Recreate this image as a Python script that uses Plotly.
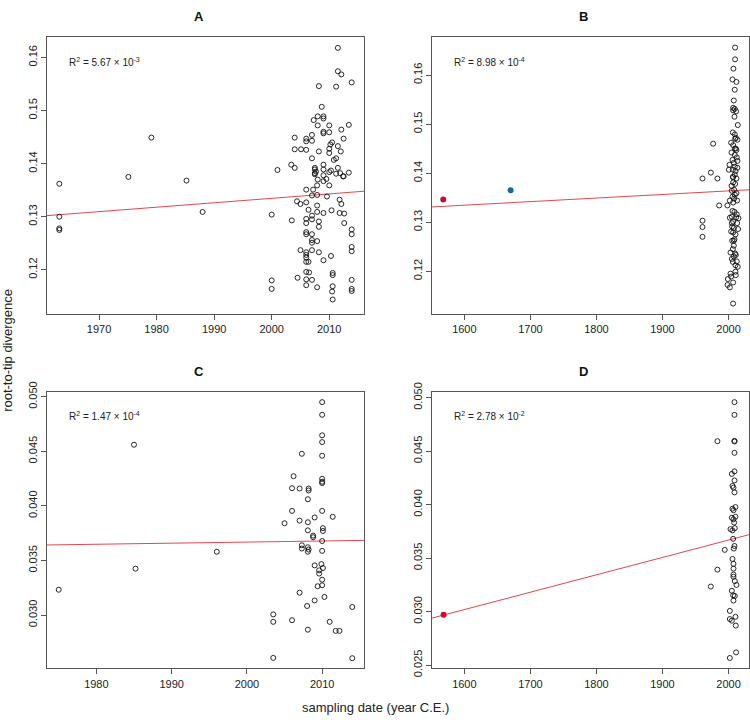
import plotly.graph_objects as go

# ---------------- Panel A ----------------
a_year = [1963.1, 1963.1, 1963.1, 1963.1, 1975.1, 1979.1, 1985.2, 1988.0, 2000.0, 2000.0, 2000.0,
          2001.0, 2003.5, 2003.4, 2004.0, 2004.0, 2004.0, 2004.4, 2004.5, 2005.0, 2005.0, 2005.1,
          2006.0, 2006.0, 2006.0, 2006.0, 2006.0, 2006.0, 2006.0, 2006.0, 2006.0, 2006.0, 2006.0,
          2006.0, 2006.0, 2006.0, 2006.0, 2006.0, 2006.4, 2006.4, 2006.5,
          2007.0, 2007.0, 2007.0, 2007.2, 2007.0, 2007.0, 2007.0, 2007.0, 2007.0, 2007.0, 2007.0, 2007.0,
          2007.3, 2007.5, 2007.5, 2007.5, 2007.5, 2007.7, 2007.9, 2007.9, 2007.9, 2007.9, 2007.9,
          2008.0, 2008.0, 2008.0, 2008.2, 2008.2, 2008.2, 2008.2, 2007.9, 2008.2,
          2008.7, 2009.0, 2009.0, 2009.0, 2009.0, 2009.0, 2009.0, 2009.0, 2009.0, 2009.0, 2009.0,
          2009.5, 2009.6, 2010.0, 2010.0, 2010.0, 2010.0, 2010.0, 2010.0, 2010.2, 2010.3, 2010.3,
          2010.4, 2010.5, 2010.5, 2010.6, 2010.6, 2010.6, 2010.6, 2010.8, 2011.2, 2011.2, 2011.2,
          2011.5, 2011.5, 2011.5, 2011.5, 2011.8, 2011.8, 2011.9, 2012.0, 2012.1, 2012.1, 2012.1,
          2012.4, 2012.5, 2012.5, 2012.6, 2012.6, 2013.4, 2013.4, 2013.9, 2013.9, 2013.9, 2013.9,
          2013.9, 2013.9, 2013.9, 2013.9]
a_div = [0.1362, 0.1300, 0.1278, 0.1275, 0.1375, 0.1449, 0.1368, 0.1309, 0.1304, 0.1180, 0.1164,
         0.1388, 0.1293, 0.1398, 0.1392, 0.1449, 0.1427, 0.1329, 0.1185, 0.1324, 0.1237, 0.1427,
         0.1447, 0.1442, 0.1426, 0.1351, 0.1327, 0.1296, 0.1288, 0.1271, 0.1267, 0.1233, 0.1228,
         0.1223, 0.1215, 0.1196, 0.1182, 0.1171, 0.1313, 0.1215, 0.1195,
         0.1454, 0.1443, 0.1410, 0.1351, 0.1340, 0.1302, 0.1295, 0.1267, 0.1256, 0.1251, 0.1237, 0.1181,
         0.1482, 0.1392, 0.1389, 0.1382, 0.1380, 0.1385, 0.1309, 0.1321, 0.1341, 0.1254, 0.1359,
         0.1370, 0.1472, 0.1489, 0.1546, 0.1423, 0.1291, 0.1281, 0.1167, 0.1233,
         0.1507, 0.1485, 0.1489, 0.1460, 0.1457, 0.1398, 0.1389, 0.1378, 0.1367, 0.1307, 0.1218,
         0.1371, 0.1338, 0.1384, 0.1359, 0.1472, 0.1459, 0.1428, 0.1420, 0.1436, 0.1226, 0.1387,
         0.1312, 0.1440, 0.1159, 0.1144, 0.1194, 0.1190, 0.1169, 0.1407, 0.1381, 0.1545, 0.1410,
         0.1392, 0.1574, 0.1618, 0.1433, 0.1307, 0.1332, 0.1382, 0.1423, 0.1464, 0.1568, 0.1324,
         0.1376, 0.1376, 0.1447, 0.1306, 0.1288, 0.1473, 0.1383, 0.1553, 0.1276, 0.1267, 0.1243,
         0.1235, 0.1181, 0.1164, 0.1160]
a_fit_x = [1960.96, 2016.04]
a_fit_y = [0.1302, 0.1348]

# ---------------- Panel B ----------------
b_year = [2009.9, 2009.9, 2007.4, 2006.0, 2012.0, 2009.4, 2008.0, 2007.0, 2009.5, 2007.0, 2011.5,
          2009.0, 2014.0, 2006.5, 2009.5, 2011.0, 2010.0, 2013.5, 2003.9, 1976.7, 2007.0, 2009.5,
          2012.0, 2004.5, 2009.5, 2012.5, 2006.0, 2013.5, 2008.0, 2001.5, 2009.5, 2013.5, 2006.5,
          2010.5, 2000.5, 1973.2, 1960.6, 1983.2, 2009.5, 2007.0, 2012.0, 2007.0, 2010.0, 2004.5,
          2008.5, 2005.0, 2012.0, 2006.0, 2008.5, 2002.0, 2013.0, 2007.0, 1998.3, 1985.8, 2006.0,
          2009.0, 1960.6, 1960.6, 1960.6, 2002.0, 2005.0, 2011.5, 2015.0, 2007.0, 2013.0, 2005.5,
          2008.0, 2014.5, 2007.0, 2010.5, 2009.0, 2005.5, 2008.0, 2006.5, 2003.0, 2011.0, 2008.0,
          2005.0, 2012.5, 2006.5, 2010.5, 2014.0, 2010.5, 2003.0, 2011.0, 2004.0, 1999.0, 2007.0,
          1998.5, 2002.0, 2006.9, 2010.0, 2008.0, 2004.0, 2011.0, 2006.5, 2012.5, 2009.5, 2005.0]
b_div = [0.1656, 0.1632, 0.1613, 0.1591, 0.1586, 0.1570, 0.1548, 0.1533, 0.1531, 0.1528, 0.1526,
         0.1515, 0.1498, 0.1483, 0.1479, 0.1472, 0.1470, 0.1468, 0.1462, 0.1460, 0.1457, 0.1450,
         0.1447, 0.1442, 0.1437, 0.1432, 0.1427, 0.1425, 0.1421, 0.1417, 0.1413, 0.1411, 0.1407,
         0.1404, 0.1407, 0.1401, 0.1389, 0.1389, 0.1397, 0.1392, 0.1389, 0.1381, 0.1378, 0.1374,
         0.1366, 0.1364, 0.1359, 0.1352, 0.1348, 0.1344, 0.1344, 0.1340, 0.1334, 0.1334, 0.1323,
         0.1321, 0.1303, 0.1290, 0.1270, 0.1309, 0.1311, 0.1310, 0.1308, 0.1301, 0.1298, 0.1291,
         0.1288, 0.1286, 0.1279, 0.1275, 0.1265, 0.1262, 0.1252, 0.1245, 0.1238, 0.1233, 0.1230,
         0.1225, 0.1220, 0.1219, 0.1212, 0.1209, 0.1199, 0.1195, 0.1192, 0.1189, 0.1184, 0.1177,
         0.1172, 0.1167, 0.1134, 0.1236, 0.1262, 0.1281, 0.1450, 0.1392, 0.1316, 0.1356, 0.1298]
b_fit_x = [1551.0, 2031.0]
b_fit_y = [0.1331, 0.1366]
b_red_year = [1568.0]
b_red_div = [0.1346]
b_blue_year = [1670.0]
b_blue_div = [0.1365]

# ---------------- Panel C ----------------
c_year = [1975.0, 1985.0, 1985.2, 1996.0, 2003.5, 2003.5, 2003.5, 2005.0, 2006.0, 2006.0, 2006.2,
          2006.0, 2007.0, 2007.0, 2007.0, 2007.3, 2007.3, 2007.3, 2008.0, 2008.1, 2008.1, 2008.1,
          2008.1, 2008.1, 2008.1, 2008.2, 2008.2, 2008.2, 2008.8, 2008.8, 2009.0, 2009.0, 2009.0,
          2009.4, 2009.6, 2009.6, 2010.0, 2010.0, 2010.0, 2010.0, 2010.0, 2010.0, 2010.0, 2010.0,
          2010.0, 2010.1, 2010.1, 2010.0, 2010.0, 2009.9, 2010.1, 2010.0, 2010.0, 2010.3, 2011.0,
          2011.4, 2011.8, 2012.3, 2014.0, 2014.0]
c_div = [0.03232, 0.04560, 0.03425, 0.03580, 0.03006, 0.02938, 0.02608, 0.03841, 0.03954, 0.04162,
         0.04272, 0.02953, 0.03865, 0.04159, 0.03205, 0.04477, 0.03639, 0.03609, 0.03083, 0.02866,
         0.03850, 0.03776, 0.03621, 0.03580, 0.04061, 0.04159, 0.04141, 0.03600, 0.03728, 0.03713,
         0.03894, 0.03455, 0.03134, 0.03264, 0.03380, 0.03410, 0.04950, 0.04834, 0.04646, 0.04584,
         0.04459, 0.04248, 0.04221, 0.04209, 0.03954, 0.03796, 0.03770, 0.03678, 0.03588, 0.03467,
         0.03431, 0.03324, 0.03273, 0.03166, 0.02938, 0.03900, 0.02855, 0.02855, 0.03074, 0.02605]
c_fit_x = [1973.44, 2015.56]
c_fit_y = [0.03642, 0.03684]

# ---------------- Panel D ----------------
d_year = [1983.2, 1973.2, 1983.2, 1994.3, 2009.0, 2009.0, 2009.0, 2009.0, 2009.0, 2009.0, 2005.0,
          2009.0, 2006.0, 2007.5, 2009.0, 2006.0, 2007.5, 2010.5, 2005.0, 2007.5, 2010.5, 2008.5,
          2003.0, 2006.0, 2009.5, 2007.0, 2009.0, 2008.0, 2006.0, 2007.5, 2007.5, 2007.5, 2007.5,
          2009.5, 2012.0, 2005.0, 2007.0, 2009.5, 2007.5, 2002.0, 2002.0, 2005.0, 2010.5, 2011.0,
          2011.5, 2002.0]
d_div = [0.04593, 0.03234, 0.03392, 0.03577, 0.04958, 0.04839, 0.04596, 0.04590, 0.04484, 0.04311,
         0.04287, 0.04226, 0.04175, 0.04159, 0.04114, 0.03962, 0.03947, 0.03977, 0.03877, 0.03862,
         0.03886, 0.03832, 0.03771, 0.03759, 0.03780, 0.03680, 0.03613, 0.03589, 0.03492, 0.03446,
         0.03401, 0.03346, 0.03325, 0.03285, 0.03249, 0.03194, 0.03152, 0.03146, 0.03103, 0.03006,
         0.02930, 0.02915, 0.02951, 0.02869, 0.02618, 0.02566]
d_fit_x = [1551.0, 2031.0]
d_fit_y = [0.02939, 0.03719]
d_red_year = [1568.6]
d_red_div = [0.02970]

panel_titles = ["A", "B", "C", "D"]
r2_labels = ["R<sup>2</sup> = 5.67 × 10<sup>-3</sup>", "R<sup>2</sup> = 8.98 × 10<sup>-4</sup>",
             "R<sup>2</sup> = 1.47 × 10<sup>-4</sup>", "R<sup>2</sup> = 2.78 × 10<sup>-2</sup>"]
x_ranges = [[1960.96, 2016.04], [1551.0, 2031.0], [1973.44, 2015.56], [1551.0, 2031.0]]
y_ranges = [[0.1117, 0.1638], [0.1113, 0.1677], [0.02512, 0.05045], [0.02469, 0.05055]]
x_ticks = [[1970, 1980, 1990, 2000, 2010], [1600, 1700, 1800, 1900, 2000],
           [1980, 1990, 2000, 2010], [1600, 1700, 1800, 1900, 2000]]
y_ticks = [[0.12, 0.13, 0.14, 0.15, 0.16], [0.12, 0.13, 0.14, 0.15, 0.16],
           [0.030, 0.035, 0.040, 0.045, 0.050], [0.025, 0.030, 0.035, 0.040, 0.045, 0.050]]
y_formats = [".2f", ".2f", ".3f", ".3f"]

W, H = 750, 728
# pixel boxes (left, top, right, bottom)
boxes = [(47, 28, 364, 312), (432, 28, 749, 312), (47, 392, 364, 676), (432, 392, 749, 676)]

fig = go.Figure()
FONT = "Liberation Sans, Arial, Helvetica, sans-serif"
LINE_RED = "#e2474e"

scatter_data = [(a_year, a_div), (b_year, b_div), (c_year, c_div), (d_year, d_div)]
fits = [(a_fit_x, a_fit_y), (b_fit_x, b_fit_y), (c_fit_x, c_fit_y), (d_fit_x, d_fit_y)]

for i in range(4):
    xa = "x" if i == 0 else f"x{i+1}"
    ya = "y" if i == 0 else f"y{i+1}"
    fx, fy = fits[i]
    fig.add_trace(go.Scatter(x=fx, y=fy, mode="lines", line=dict(color=LINE_RED, width=1),
                             xaxis=xa, yaxis=ya, showlegend=False, hoverinfo="skip"))
    sx, sy = scatter_data[i]
    fig.add_trace(go.Scatter(x=sx, y=sy, mode="markers", xaxis=xa, yaxis=ya, showlegend=False,
                             marker=dict(symbol="circle-open", size=5, color="#111",
                                         line=dict(width=0.9, color="#111"))))

fig.add_trace(go.Scatter(x=b_red_year, y=b_red_div, mode="markers", xaxis="x2", yaxis="y2",
                         showlegend=False, marker=dict(size=6, color="#c8102e")))
fig.add_trace(go.Scatter(x=b_blue_year, y=b_blue_div, mode="markers", xaxis="x2", yaxis="y2",
                         showlegend=False, marker=dict(size=6, color="#116a94")))
fig.add_trace(go.Scatter(x=d_red_year, y=d_red_div, mode="markers", xaxis="x4", yaxis="y4",
                         showlegend=False, marker=dict(size=6, color="#c8102e")))

layout = dict(width=W, height=H, margin=dict(l=0, r=0, t=0, b=0, pad=0),
              autosize=False,
              paper_bgcolor="white", plot_bgcolor="white",
              font=dict(family=FONT, size=11, color="#222"))
annotations = []
for i in range(4):
    l, t, r, b = boxes[i]
    xk = "xaxis" if i == 0 else f"xaxis{i+1}"
    yk = "yaxis" if i == 0 else f"yaxis{i+1}"
    ya = "y" if i == 0 else f"y{i+1}"
    xa = "x" if i == 0 else f"x{i+1}"
    layout[xk] = dict(domain=[l / W, r / W], range=x_ranges[i], anchor=ya,
                      tickvals=x_ticks[i], ticks="outside", ticklen=5, tickcolor="#555",
                      showline=True, linecolor="#555", linewidth=1, mirror=True,
                      showgrid=False, zeroline=False, tickfont=dict(size=11, color="#222"))
    layout[yk] = dict(domain=[1 - b / H, 1 - t / H], range=y_ranges[i], anchor=xa,
                      tickvals=y_ticks[i], tickformat=y_formats[i], tickangle=-90,
                      ticks="outside", ticklen=5, tickcolor="#555",
                      showline=True, linecolor="#555", linewidth=1, mirror=True,
                      showgrid=False, zeroline=False, tickfont=dict(size=11, color="#222"))
    annotations.append(dict(text=f"<b>{panel_titles[i]}</b>", xref="paper", yref="paper",
                            x=(l + (r - l) / 2 - 7) / W, y=1 - (t - 21) / H,
                            showarrow=False, font=dict(size=13, color="#111"),
                            xanchor="center", yanchor="middle"))
    annotations.append(dict(text=r2_labels[i], xref="paper", yref="paper",
                            x=(l + 20) / W, y=1 - (t + 25) / H, showarrow=False,
                            font=dict(size=10, color="#222"), xanchor="left", yanchor="middle"))

annotations.append(dict(text="root-to-tip divergence", xref="paper", yref="paper",
                        x=8 / W, y=1 - 350 / H, textangle=-90, showarrow=False,
                        font=dict(size=13, color="#222"), xanchor="center", yanchor="middle"))
annotations.append(dict(text="sampling date (year C.E.)", xref="paper", yref="paper",
                        x=375 / W, y=1 - 716 / H, showarrow=False,
                        font=dict(size=13, color="#222"), xanchor="center", yanchor="middle"))
layout["annotations"] = annotations
fig.update_layout(**layout)
fig.write_html("out.html", config={"displayModeBar": False, "responsive": False},
               post_script="document.body.style.margin='0';document.body.style.padding='0';"
                           "document.body.style.overflow='hidden';")
